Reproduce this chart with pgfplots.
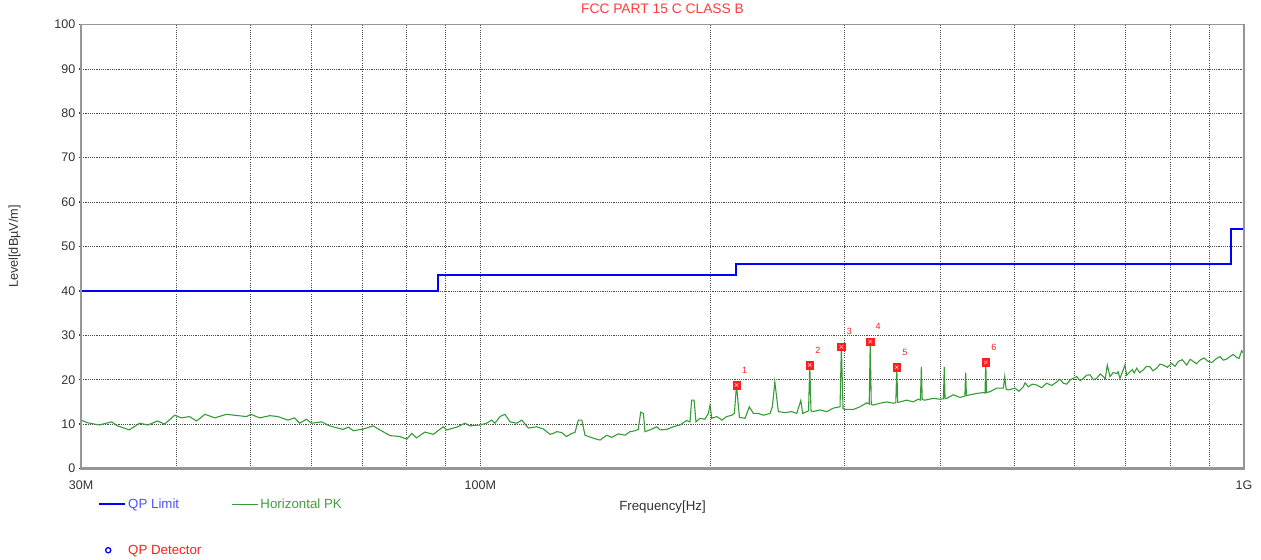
\documentclass[border=0pt]{standalone}
\usepackage{pgfplots}
\pgfplotsset{compat=1.18}
\usepackage{pgfplotstable}
\usepackage{fontspec}
\setmainfont{Liberation Sans}
\definecolor{limblue}{RGB}{0,0,255}
\definecolor{trace}{RGB}{55,155,55}
\definecolor{titred}{RGB}{255,60,60}
\definecolor{legblue}{RGB}{80,80,255}
\definecolor{leggreen}{RGB}{60,160,60}
\definecolor{mkred}{RGB}{255,30,30}
\definecolor{framegray}{RGB}{150,150,150}

\pgfplotstableread{
f lev
30.0 10.9
30.6 10.3
31.7 9.8
32.9 10.5
33.5 9.6
34.7 8.7
35.8 10.2
36.7 9.8
37.8 10.7
38.6 10.0
39.8 12.0
40.6 11.4
41.6 11.7
42.5 10.7
43.6 12.2
44.9 11.4
46.5 12.2
48.2 11.9
49.4 11.7
50.1 12.2
51.4 11.4
53.0 11.9
54.3 11.7
56.0 10.9
57.1 11.4
58.0 10.2
59.2 11.1
60.1 10.2
62.0 10.5
63.5 9.6
66.1 8.8
67.2 9.3
68.2 8.5
70.3 8.9
72.4 9.6
73.5 8.9
76.2 7.4
78.5 7.2
80.1 6.6
81.3 7.9
82.5 6.9
84.6 8.2
86.8 7.7
89.4 9.4
90.4 8.7
93.1 9.3
95.5 10.2
96.9 9.6
99.9 9.8
101.9 10.2
103.5 10.9
104.5 10.2
106.1 11.7
107.7 12.2
109.4 10.5
111.6 10.2
113.3 10.9
115.6 9.1
118.5 9.4
120.9 8.9
123.4 7.7
124.6 7.9
125.9 8.3
127.8 8.1
129.7 7.2
131.7 7.9
133.0 8.1
134.4 10.9
135.8 10.9
137.1 7.5
140.6 6.8
143.5 6.4
146.4 7.5
148.6 7.0
151.6 7.8
154.7 7.5
157.0 8.3
159.4 8.5
161.0 8.8
162.2 12.7
163.5 12.4
164.3 8.3
166.8 8.7
170.2 9.4
171.9 8.7
175.4 8.8
178.9 9.4
182.6 9.8
186.3 10.8
188.2 10.5
189.1 15.4
190.5 15.4
191.6 10.5
193.9 11.3
196.9 11.1
198.9 12.4
199.9 14.3
200.9 11.3
204.0 11.7
207.1 10.9
210.2 11.7
213.4 12.0
215.1 12.4
216.5 18.8
218.4 11.5
222.1 11.3
225.0 13.9
227.8 12.4
231.2 12.4
234.8 12.0
239.5 12.4
241.2 13.9
243.0 19.5
245.6 12.8
250.6 12.6
255.7 12.8
259.6 12.4
262.8 15.3
264.3 12.4
267.5 12.8
269.0 13.0
270.0 23.3
271.0 13.0
272.4 12.8
278.5 13.2
284.2 12.8
289.9 13.6
295.8 13.9
297.0 27.4
298.5 13.5
300.3 13.3
307.9 13.3
314.2 13.9
320.6 14.8
323.0 14.5
324.0 28.6
325.0 14.4
327.0 14.3
333.7 14.7
340.5 15.0
347.3 14.7
350.0 14.8
351.0 22.8
352.0 14.9
354.4 15.0
361.7 15.4
368.9 15.0
374.5 15.6
377.0 15.4
378.0 22.9
379.0 15.5
382.2 15.4
391.9 15.8
399.9 15.6
404.0 15.7
405.0 22.9
406.0 15.7
408.0 15.8
416.2 16.6
424.7 16.0
431.0 16.3
432.0 21.6
433.0 16.4
437.7 16.6
446.6 16.9
455.6 17.1
458.0 17.0
459.0 23.9
460.0 17.1
464.9 17.3
474.4 18.1
484.0 18.1
486.0 20.7
488.0 17.9
491.3 17.7
501.3 18.1
507.0 17.4
514.0 18.4
516.7 19.3
521.9 18.4
528.0 19.0
535.2 18.8
543.0 18.2
551.6 19.2
560.0 18.7
568.5 19.5
574.0 20.1
580.0 19.2
586.0 19.0
591.7 19.9
597.0 20.3
603.8 20.7
610.0 19.8
616.0 20.3
622.0 21.0
628.5 21.1
635.0 20.0
641.3 20.3
648.0 21.3
654.2 20.7
658.0 20.2
662.2 23.3
667.6 20.7
674.0 21.6
681.2 21.4
684.0 21.8
688.0 20.3
698.5 23.3
702.0 21.0
705.5 21.4
714.0 22.3
718.0 21.5
723.5 22.6
730.0 21.6
738.0 22.2
745.0 23.0
753.1 22.9
760.0 22.0
768.5 22.6
776.0 23.5
784.0 23.3
794.0 22.8
804.0 23.7
812.0 23.0
820.2 24.1
830.0 24.5
841.2 23.3
850.0 24.6
858.1 24.1
866.0 23.6
875.6 24.4
886.0 24.9
897.7 24.1
908.0 23.9
920.8 24.8
930.0 25.2
939.3 24.4
948.0 24.6
958.4 25.2
968.0 25.7
978.0 25.0
985.0 24.8
992.9 26.5
1000.0 25.8
}\tracedata

\pgfplotstableread{
f lev label
216.5 18.8 1
270.0 23.3 2
297.0 27.4 3
324.0 28.6 4
351.0 22.8 5
459.0 23.9 6
}\markdata

\begin{document}
\begin{tikzpicture}
\begin{axis}[
  scale only axis, width=1163pt, height=444pt,
  xmode=log, xmin=30, xmax=1000, ymin=0, ymax=100,
  clip=false,
  xtick={30,100,1000}, xticklabels={30M,100M,1G},
  minor xtick={40,50,60,70,80,90,200,300,400,500,600,700,800,900},
  ytick={0,10,...,100},
  ytick pos=left,
  /pgf/number format/assume math mode=true,
  xmajorgrids=true, xminorgrids=true, ymajorgrids=true,
  grid style={black!70, line width=0.7pt, dash pattern=on 1.1pt off 1.1pt},
  minor grid style={black!70, line width=0.7pt, dash pattern=on 1.1pt off 1.1pt},
  axis line style={framegray, line width=0.8pt},
  tick align=outside,
  major tick length=2.5pt, minor tick length=0pt,
  xtick style={draw=none},
  ytick style={draw=black!75, line width=1.6pt},
  tick label style={font=\fontsize{12.5}{14}\selectfont, text=black!80},
  xticklabel style={anchor=center, yshift=-14.5pt},
  yticklabel style={anchor=east, inner sep=0pt, xshift=-3pt},
  title={FCC PART 15 C CLASS B},
  title style={font=\fontsize{13.8}{15}\selectfont, text=titred, at={(axis description cs:0.5,1)}, anchor=center, yshift=9.5pt},
  xlabel={Frequency[Hz]},
  xlabel style={font=\fontsize{13.3}{15}\selectfont, text=black!80, at={(axis description cs:0.5,0)}, anchor=center, yshift=-38.5pt},
  ylabel={Level[dBµV/m]},
  ylabel style={font=\fontsize{12.7}{14}\selectfont, text=black!80, at={(axis description cs:-0.057,0.5)}, anchor=center, rotate=0},
  legend style={at={(axis description cs:0,0)}, anchor=north west, xshift=14pt, yshift=-26pt,
    draw=none, fill=none, font=\fontsize{13.3}{15}\selectfont, row sep=31pt,
    /tikz/every even column/.append style={column sep=28pt}},
  legend columns=2, legend cell align=left,
  legend image code/.code={\draw[#1] (0pt,0pt) -- (26pt,0pt);},
]
\addplot[limblue, line width=2pt, const plot] coordinates {
  (30,40) (88,43.5) (216,46) (960,54) (1000,54)};
\addlegendentry{\textcolor{legblue}{QP Limit}}
\addplot[trace, line width=1.1pt] table[x=f, y=lev] {\tracedata};
\addlegendentry{\textcolor{leggreen}{Horizontal PK}}
\addlegendimage{legend image code/.code={\draw[blue, line width=1.3pt] (9pt,0pt) circle (2.6pt);}}
\addlegendentry{\textcolor{mkred}{QP Detector}}
\addplot[only marks, mark=square*, mark size=3.8pt, mark options={fill=mkred, draw=mkred},
  point meta=explicit symbolic, nodes near coords,
  every node near coord/.append style={anchor=center, xshift=8pt, yshift=15pt, text=mkred, font=\fontsize{9}{10}\selectfont},
  forget plot] table[x=f, y=lev, meta=label] {\markdata};
\addplot[only marks, mark=x, mark size=2.5pt, mark options={draw=white, line width=0.5pt, opacity=0.8}, forget plot]
  table[x=f, y=lev] {\markdata};
\end{axis}
\draw[framegray, line width=2.4pt] (current axis.north west) -- (current axis.south west) -- (current axis.south east) -- (current axis.north east);
\path (-81pt,-89.5pt) rectangle (1180pt,468.5pt);
\end{tikzpicture}
\end{document}
